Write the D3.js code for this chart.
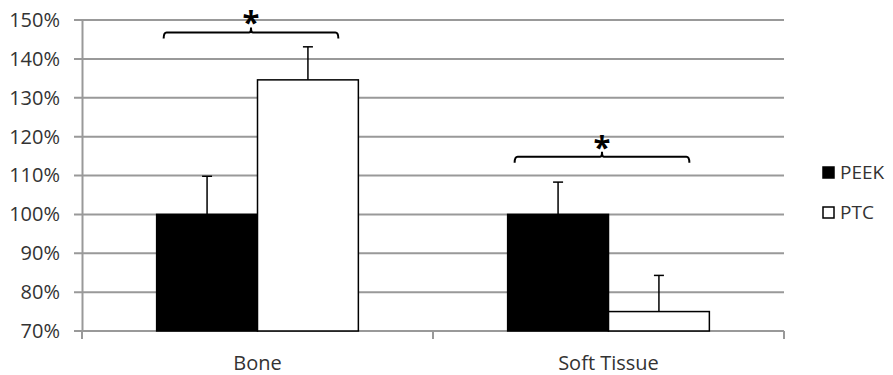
<!DOCTYPE html>
<html>
<head>
<meta charset="utf-8">
<script src="https://cdn.jsdelivr.net/npm/d3@7"></script>
<style>
body { margin: 0; background: #fff; }
text { font-family: "Open Sans", sans-serif; fill: #333; }
</style>
</head>
<body>
<div id="chart"></div>
<script>
"use strict";
// data
let categories = ["Bone", "Soft Tissue"];
let seriesNames = ["PEEK", "PTC"];
let seriesColors = ["#000", "#fff"];
let peekValues = [1.00, 1.00];
let ptcValues = [1.346, 0.75];
let peekErrors = [0.098, 0.083];
let ptcErrors = [0.085, 0.093];
let yTicks = [0.7, 0.8, 0.9, 1.0, 1.1, 1.2, 1.3, 1.4, 1.5];
let bracketLevels = [1.468, 1.148];

let width = 893, height = 375;
let margin = { top: 20, right: 109, bottom: 44, left: 82 };

let svg = d3.select("#chart")
	.append("svg")
	.attr("width", width)
	.attr("height", height);

let x = d3.scaleBand()
	.domain(categories)
	.range([margin.left, width - margin.right]);

let xInner = d3.scaleBand()
	.domain(seriesNames)
	.range([0, x.bandwidth()])
	.paddingOuter(0.74);

let y = d3.scaleLinear()
	.domain([0.7, 1.5])
	.range([height - margin.bottom, margin.top]);

// gridlines
svg.append("g")
	.selectAll("line")
	.data(yTicks)
	.enter().append("line")
	.attr("x1", margin.left - 8)
	.attr("x2", width - margin.right)
	.attr("y1", d => y(d))
	.attr("y2", d => y(d))
	.attr("stroke", "#999")
	.attr("stroke-width", 2);

// y axis
let yAxis = svg.append("g")
	.attr("transform", "translate(" + margin.left + ",0)")
	.call(d3.axisLeft(y).tickValues(yTicks).tickFormat(d3.format(".0%")).tickSize(0).tickPadding(22));
yAxis.select(".domain").attr("stroke", "#999").attr("stroke-width", 2);
yAxis.selectAll("text").style("font-size", "20px").style("font-family", "'Open Sans', sans-serif").style("fill", "#333");

// x axis
let xAxisG = svg.append("g")
	.attr("transform", "translate(0," + y(0.7) + ")");
xAxisG.append("line")
	.attr("x1", margin.left).attr("x2", width - margin.right)
	.attr("stroke", "#999").attr("stroke-width", 2);
let xTickPos = [margin.left].concat(categories.map(c => x(c) + x.bandwidth()));
xAxisG.selectAll(".xt")
	.data(xTickPos)
	.enter().append("line")
	.attr("x1", d => d).attr("x2", d => d)
	.attr("y1", 0).attr("y2", 8)
	.attr("stroke", "#999").attr("stroke-width", 2);
xAxisG.selectAll(".xl")
	.data(categories)
	.enter().append("text")
	.attr("x", d => x(d) + x.bandwidth() / 2)
	.attr("y", 39)
	.attr("text-anchor", "middle")
	.style("font-size", "20px")
	.text(d => d);

// bars
let rows = [];
categories.forEach(function (c, i) {
	rows.push({ cat: c, s: "PEEK", v: peekValues[i], e: peekErrors[i], color: seriesColors[0] });
	rows.push({ cat: c, s: "PTC", v: ptcValues[i], e: ptcErrors[i], color: seriesColors[1] });
});

svg.append("g")
	.selectAll("rect")
	.data(rows)
	.enter().append("rect")
	.attr("x", d => x(d.cat) + xInner(d.s))
	.attr("width", xInner.bandwidth())
	.attr("y", d => y(d.v))
	.attr("height", d => y(0.7) - y(d.v))
	.attr("fill", d => d.color)
	.attr("stroke", "#000")
	.attr("stroke-width", 1.5);

// error bars (upper only)
let err = svg.append("g").attr("stroke", "#000").attr("stroke-width", 1.5);
rows.forEach(function (d) {
	let cx = x(d.cat) + xInner(d.s) + xInner.bandwidth() / 2;
	err.append("line").attr("x1", cx).attr("x2", cx).attr("y1", y(d.v)).attr("y2", y(d.v + d.e));
	err.append("line").attr("x1", cx - 5).attr("x2", cx + 5).attr("y1", y(d.v + d.e)).attr("y2", y(d.v + d.e));
});

// significance brackets
categories.forEach(function (c, i) {
	let x0 = x(c) + xInner("PEEK") + 7;
	let x1 = x(c) + xInner("PTC") + xInner.bandwidth() - 20;
	let xm = (x0 + x1) / 2;
	let by = y(bracketLevels[i]);
	svg.append("path")
		.attr("d", "M" + x0 + "," + (by + 6) + "Q" + x0 + "," + by + " " + (x0 + 3) + "," + by +
			"L" + (xm - 2) + "," + by + "Q" + xm + "," + by + " " + xm + "," + (by - 5) +
			"Q" + xm + "," + by + " " + (xm + 2) + "," + by +
			"L" + (x1 - 3) + "," + by + "Q" + x1 + "," + by + " " + x1 + "," + (by + 6))
		.attr("fill", "none")
		.attr("stroke", "#000")
		.attr("stroke-width", 2);
	svg.append("text")
		.attr("x", xm)
		.attr("y", by + 1)
		.attr("text-anchor", "middle")
		.style("font-size", "31px")
		.style("font-weight", "bold")
		.style("fill", "#000")
		.text("*");
});

// legend
let legend = svg.append("g");
seriesNames.forEach(function (s, i) {
	let ly = 167 + i * 40;
	legend.append("rect")
		.attr("x", 823).attr("y", ly)
		.attr("width", 11).attr("height", 11)
		.attr("fill", seriesColors[i])
		.attr("stroke", "#000").attr("stroke-width", 1.5);
	legend.append("text")
		.attr("x", 840).attr("y", ly + 12)
		.style("font-size", "19px")
		.text(s);
});
</script>
</body>
</html>
